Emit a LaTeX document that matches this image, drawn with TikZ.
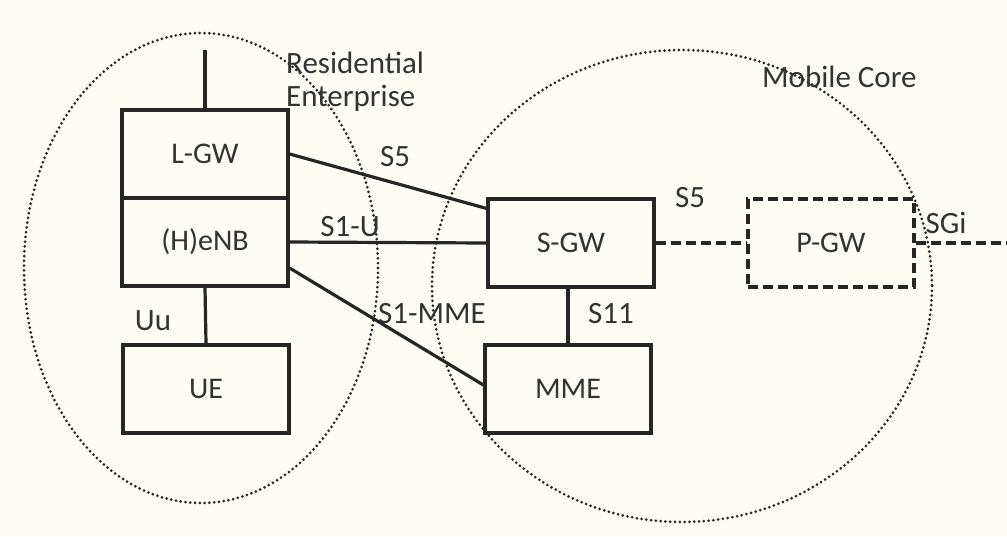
\documentclass[tikz,border=0pt]{standalone}
\usepackage{fontspec}
\setmainfont{Carlito}
\begin{document}
\begin{tikzpicture}[x=1pt,y=-1pt,
  box/.style={draw=black!85,line width=3.2pt,minimum width=166pt,minimum height=88pt,inner sep=0pt,font=\fontsize{30}{30}\selectfont,text=black!80},
  dbox/.style={box,dash pattern=on 10pt off 5pt},
  link/.style={draw=black!85,line width=3.2pt},
  dlink/.style={link,dash pattern=on 10pt off 5pt},
  zone/.style={draw=black!85,line width=3pt,dash pattern=on 0pt off 4.8pt,line cap=round},
  lbl/.style={font=\fontsize{31}{31}\selectfont,text=black!80,inner sep=0pt}]
% canvas
\fill[fill={rgb,255:red,253;green,253;blue,246}] (0,0) rectangle (1007,536);
\useasboundingbox (0,0) rectangle (1007,536);
% domains
\draw[zone] (201,268) ellipse [x radius=177,y radius=235];
\draw[zone] (682,286) ellipse [x radius=250,y radius=236];
% network elements
\node[box] (lgw) at (205,154) {L-GW};
\node[box] (enb) at (205,242) {(H)eNB};
\node[box] (ue) at (206,389) {UE};
\node[box] (sgw) at (571,243) {S-GW};
\node[box] (mme) at (568,389) {MME};
\node[dbox] (pgw) at (831,243) {P-GW};
\coordinate (up) at (205,50);
\coordinate (out) at (1007,243);
% interfaces
\draw[link] (lgw.north) -- (up);
\draw[link] (lgw.east) -- ([yshift=-11pt]sgw.north west);
\draw[link] (enb.east) -- (sgw.west);
\draw[link] ([yshift=-26pt]enb.east) -- ([yshift=4pt]mme.west);
\draw[link] (enb.south) -- (ue.north);
\draw[link] (sgw.south -| mme.north) -- (mme.north);
\draw[dlink] (sgw.east) -- (pgw.west);
\draw[dlink] (pgw.east) -- (out);
% labels
\node[lbl,anchor=west] (res) at (286,63) {Residential};
\node[lbl,anchor=west] (ent) at (286,98) {Enterprise};
\node[lbl,anchor=west] (core) at (762,77) {Mobile Core};
\node[lbl] (s5a) at (395,157) {S5};
\node[lbl] (s1u) at (350,227) {S1-U};
\node[lbl] (s5b) at (690,198) {S5};
\node[lbl] (sgi) at (946,223) {SGi};
\node[lbl] (s1m) at (432,314) {S1-MME};
\node[lbl] (s11) at (611,314) {S11};
\node[lbl] (uu) at (153,321) {Uu};
\end{tikzpicture}
\end{document}
